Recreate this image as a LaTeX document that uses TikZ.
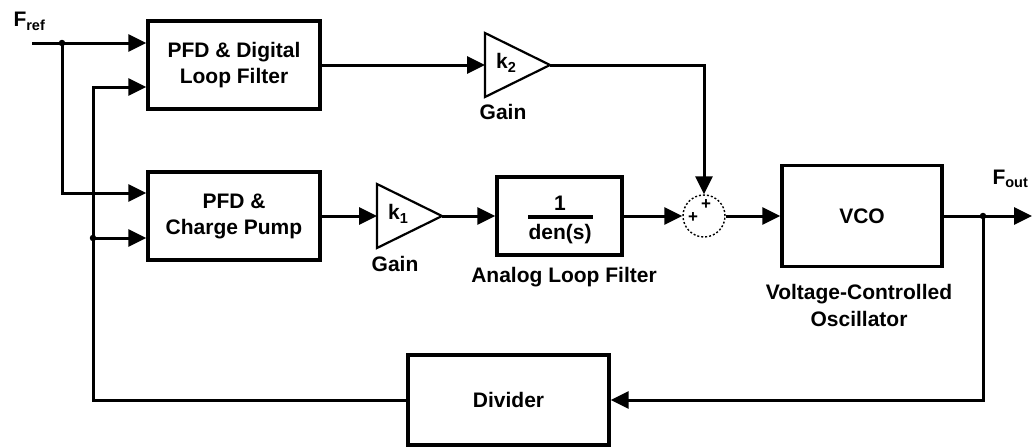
\documentclass[tikz,border=0pt]{standalone}
\usepackage{fontspec}
\setmainfont{Liberation Sans}
\usetikzlibrary{arrows.meta}
\newcommand{\sbs}[1]{\raisebox{-3.5pt}{\fontsize{14.5}{14.5}\selectfont #1}}
\begin{document}
\begin{tikzpicture}[x=1pt,y=-1pt,
  line width=3pt,
  txt/.style={font=\fontsize{21}{24}\selectfont\bfseries, inner sep=0pt, align=center},
  blk/.style={draw, line width=3.4pt, txt, inner sep=0pt},
  arr/.style={-{Triangle[length=18pt,width=17pt]}},
  tri/.style={line width=2.2pt, line join=miter},
  pls/.style={font=\fontsize{17}{17}\selectfont\bfseries, inner sep=0pt},
  dot/.style={circle, fill, inner sep=0pt, minimum size=6.5pt}]
\useasboundingbox (0,0) rectangle (1032,447);

% blocks
\node[blk, minimum width=172pt, minimum height=88pt] (pfd1) at (234,65) {PFD \& Digital\\[2pt]Loop Filter};
\node[blk, minimum width=172pt, minimum height=88pt] (pfd2) at (234,216) {PFD \&\\[2pt]Charge Pump};
\node[blk, minimum width=125pt, minimum height=78pt] (alf) at (559.5,216) {};
\node[blk, minimum width=160pt, minimum height=101pt] (vco) at (862,216) {VCO};
\node[blk, minimum width=201pt, minimum height=90pt] (div) at (508.5,400) {Divider};

% analog loop filter content
\node[txt] (alfnum) at (560,203) {1};
\node[txt] (alfden) at (560,234) {den(s)};
\draw[line width=3.2pt] (528,217) -- (593,217);

% gains
\coordinate (k2in) at (485,65);
\coordinate (k2out) at (550,65);
\draw[tri] (485,33) -- (k2out) -- (485,97) -- cycle;
\node[txt] (k2t) at (506,63) {k\sbs{2}};
\node[txt] (k2g) at (503,112) {Gain};

\coordinate (k1in) at (377,216);
\coordinate (k1out) at (442,216);
\draw[tri] (377,184) -- (k1out) -- (377,248) -- cycle;
\node[txt] (k1t) at (398,214) {k\sbs{1}};
\node[txt] (k1g) at (395,264) {Gain};

% sum
\node[draw, circle, dash pattern=on 2pt off 2pt, line width=1.4pt, minimum size=42pt, inner sep=0pt] (sum) at (704,216) {};
\node[pls] (p1) at (706,205) {+};
\node[pls] (p2) at (693,218) {+};

% labels
\node[txt] (alfl) at (564,277) {Analog Loop Filter};
\node[txt] (vcol) at (859,305) {Voltage-Controlled\\[3pt]Oscillator};
\node[txt, anchor=base west] (fref) at (12,27) {F\sbs{ref}};
\node[txt, anchor=base west] (fout) at (991,184) {F\sbs{out}};

% connectors
\coordinate (fin) at (32,43);
\coordinate (j1) at (62,43);
\coordinate (fbL) at (93,400);
\coordinate (j2) at (93,238);
\coordinate (j3) at (983,216);
\coordinate (fend) at (1032,216);

\draw[arr] (fin) -- ([yshift=22pt]pfd1.west);
\draw[arr] (j1) |- ([yshift=23pt]pfd2.west);
\draw[arr] (div.west) -- (fbL) |- ([yshift=-22pt]pfd1.west);
\draw[arr] (j2) -- ([yshift=-22pt]pfd2.west);
\draw[arr] (pfd1.east) -- (k2in);
\draw[arr] (k2out) -| (sum.north);
\draw[arr] (pfd2.east) -- (k1in);
\draw[arr] (k1out) -- (alf.west);
\draw[arr] (alf.east) -- (sum.west);
\draw[arr] (sum.east) -- (vco.west);
\draw[arr] (vco.east) -- (fend);
\draw[arr] (j3) |- (div.east);

\node[dot] at (j1) {};
\node[dot] at (j2) {};
\node[dot] at (j3) {};
\end{tikzpicture}
\end{document}
